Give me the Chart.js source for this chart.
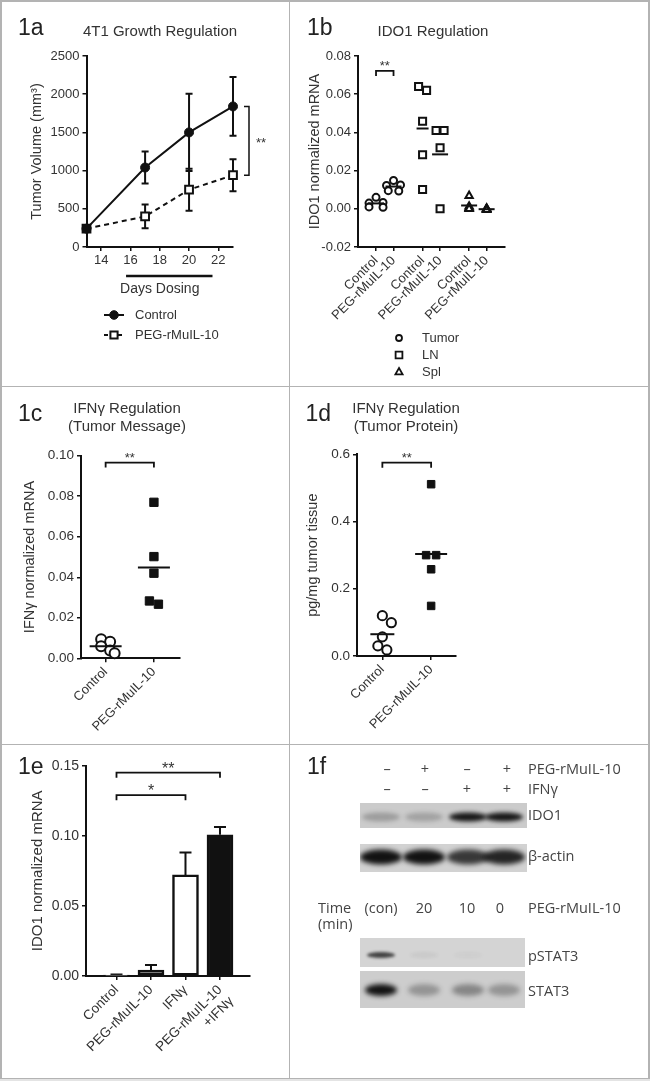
<!DOCTYPE html>
<html>
<head>
<meta charset="utf-8">
<title>Figure 1</title>
<script src="https://cdn.jsdelivr.net/npm/chart.js"></script>
<style>
  body { margin: 0; background: #fff; }
  #page { position: relative; width: 650px; height: 1081px; overflow: hidden; font-family: 'Liberation Sans', Arial, sans-serif; color: #333; }
  #page canvas { position: absolute; left: 0; top: 0; }
  .t { position: absolute; white-space: nowrap; line-height: 1; }
  .tag { font-size: 23px; color: #222; }
  .ttl { font-size: 15px; transform: translateX(-50%); }
  .wb { font-family: 'Open Sans', sans-serif; font-size: 14.5px; color: #444; }
  .mid { transform: translateX(-50%); }
  .rule { position: absolute; background: #b3b3b3; }
</style>
</head>
<body>
<div id="page">
  <div class="rule" style="left:0;top:0;width:650px;height:1.5px"></div>
  <div class="rule" style="left:0;top:0;width:1.5px;height:1079px"></div>
  <div class="rule" style="left:648px;top:0;width:1.5px;height:1079px"></div>
  <div class="rule" style="left:288.5px;top:0;width:1.5px;height:1079px"></div>
  <div class="rule" style="left:0;top:385.5px;width:650px;height:1.5px"></div>
  <div class="rule" style="left:0;top:743.5px;width:650px;height:1.5px"></div>
  <div class="rule" style="left:0;top:1077.5px;width:650px;height:1.5px"></div>
  <div style="position:absolute;left:0;top:1079px;width:650px;height:2px;background:#e4e4e4"></div>

  <canvas id="c1a" width="650" height="1081"></canvas>
  <canvas id="c1b" width="650" height="1081"></canvas>
  <canvas id="c1c" width="650" height="1081"></canvas>
  <canvas id="c1d" width="650" height="1081"></canvas>
  <canvas id="c1e" width="650" height="1081"></canvas>
  <canvas id="blots" width="650" height="1081"></canvas>

  <div class="t tag" style="left:18px;top:15.5px">1a</div>
  <div class="t tag" style="left:307px;top:15.5px">1b</div>
  <div class="t tag" style="left:18px;top:402px">1c</div>
  <div class="t tag" style="left:305.5px;top:402px">1d</div>
  <div class="t tag" style="left:18px;top:754.5px">1e</div>
  <div class="t tag" style="left:307px;top:754.5px">1f</div>

  <div class="t ttl" style="left:160px;top:22.8px">4T1 Growth Regulation</div>
  <div class="t ttl" style="left:433px;top:22.8px">IDO1 Regulation</div>
  <div class="t ttl" style="left:127px;top:399.8px">IFNγ Regulation</div>
  <div class="t ttl" style="left:127px;top:418.3px">(Tumor Message)</div>
  <div class="t ttl" style="left:406px;top:399.8px">IFNγ Regulation</div>
  <div class="t ttl" style="left:406px;top:418.3px">(Tumor Protein)</div>

  <div id="blotText"></div>
</div>
<script>
// ---------------- data ----------------
// 1a  4T1 tumour growth (mean, error)
const growthSeries = ['Control', 'PEG-rMuIL-10'];
const growthDays = [13, 17, 20, 23];
const dayTicks = [14, 16, 18, 20, 22];
const controlVolume = [240, 1040, 1500, 1840];
const controlSem = [0, 210, 505, 385];
const pegVolume = [240, 400, 750, 940];
const pegSem = [0, 155, 275, 210];
const dosingDays = [15.7, 21.6];

// 1b  IDO1 mRNA per tissue
const tissueNames = ['Tumor', 'LN', 'Spl'];
const ido1Labels = ['Control', 'PEG-rMuIL-10', 'Control', 'PEG-rMuIL-10', 'Control', 'PEG-rMuIL-10'];
const tumorControl = [0.0060, 0.0033, 0.0030, 0.0010, 0.0008];
const tumorPeg = [0.0148, 0.0125, 0.0122, 0.0095, 0.0093];
const lnControl = [0.0640, 0.0620, 0.0458, 0.0283, 0.0101];
const lnPeg = [0.0410, 0.0410, 0.0320, 0.0000];
const splControl = [0.0068, 0.0012, 0.0005, 0.0002, 0.0000];
const splPeg = [0.0002, 0.0000, -0.0002, -0.0004, -0.0006];

// 1c  IFNg mRNA in tumour
const groupLabels = ['Control', 'PEG-rMuIL-10'];
const msgControl = [0.0094, 0.0082, 0.0060, 0.0038, 0.0025];
const msgPeg = [0.0770, 0.0502, 0.0420, 0.0283, 0.0267];

// 1d  IFNg protein in tumour
const protControl = [0.120, 0.099, 0.057, 0.030, 0.018];
const protPeg = [0.511, 0.300, 0.300, 0.258, 0.149];

// 1e  IDO1 mRNA, in vitro
const barLabels = ['Control', 'PEG-rMuIL-10', 'IFNγ', ['PEG-rMuIL-10', '+IFNγ']];
const barMeans = [0.0007, 0.0043, 0.0721, 0.1007];
const barSem = [0.0003, 0.0036, 0.0159, 0.0055];

// 1f  western blot lanes and band intensities (0 none .. 1 saturated)
const pegRow = ['–', '+', '–', '+'];
const ifnRow = ['–', '–', '+', '+'];
const timeLabels = ['(con)', '20', '10', '0'];
const ido1Band = [0.25, 0.22, 0.97, 0.97];
const actinBand = [1, 1, 0.8, 0.9];
const pstat3Band = [0.75, 0.05, 0.03, 0];
const stat3Band = [1, 0.3, 0.38, 0.3];

// ---------------- common setup ----------------
const INK = '#111';
const TXT = '#333';
Chart.defaults.font.family = "'Liberation Sans', Arial, sans-serif";
Chart.defaults.color = TXT;
Chart.defaults.animation = false;
Chart.defaults.responsive = false;
Chart.defaults.devicePixelRatio = 1;
Chart.defaults.events = [];
Chart.defaults.plugins.legend.display = false;
Chart.defaults.plugins.tooltip.enabled = false;

// every chart uses a full page canvas; the plot box is given in page pixels
function frame(left, top, right, bottom, yWidth, xHeight) {
    return { padding: { left: left - yWidth, top: top, right: 650 - right, bottom: 1081 - bottom - xHeight } };
}

function valueAxis(min, max, step, digits, title, width, size, titleSize) {
    return {
        type: 'linear', min: min, max: max,
        afterBuildTicks: s => {
            const t = [];
            for (let v = min; v <= max + step / 1000; v += step) t.push({ value: +v.toFixed(6) });
            s.ticks = t;
        },
        ticks: { font: { size: size }, padding: 3, color: TXT, callback: v => v.toFixed(digits) },
        grid: { drawOnChartArea: false, tickLength: 4, color: INK, lineWidth: 1.5 },
        border: { color: INK, width: 2 },
        title: { display: true, text: title, font: { size: titleSize }, color: TXT, padding: { top: 4, bottom: 4 } },
        afterFit: s => { s.width = width; }
    };
}

function catAxis(positions, labels, min, max, height, size, rotate) {
    return {
        type: 'linear', min: min, max: max, offset: false,
        afterBuildTicks: s => { s.ticks = positions.map(v => ({ value: v })); },
        ticks: { font: { size: size }, padding: 2, color: TXT, autoSkip: false, maxRotation: rotate, minRotation: rotate,
                 callback: (v, i) => labels[i] },
        grid: { drawOnChartArea: false, tickLength: 4, color: INK, lineWidth: 1.5, offset: false },
        border: { color: INK, width: 2 },
        afterFit: s => { s.height = height; }
    };
}

function pairs(xs, ys) {
    return xs.map((x, i) => ({ x: x, y: ys[i] }));
}

function group(pos, values, style, extra) {
    return Object.assign({ data: values.map(v => ({ x: pos, y: v })), clip: false, pointBorderColor: INK }, style, extra || {});
}

function marker(ctx, style, x, y, r, fill) {
    ctx.beginPath();
    if (style === 'circle') ctx.arc(x, y, r, 0, Math.PI * 2);
    else if (style === 'rect') ctx.rect(x - r, y - r, 2 * r, 2 * r);
    else { ctx.moveTo(x, y - r); ctx.lineTo(x + r * 0.9, y + r * 0.6); ctx.lineTo(x - r * 0.9, y + r * 0.6); ctx.closePath(); }
    ctx.fillStyle = fill;
    ctx.fill();
    ctx.stroke();
}

// spread points of one column so they do not sit on top of each other
const swarm = {
    id: 'swarm',
    afterDatasetsUpdate(chart) {
        chart.data.datasets.forEach((ds, i) => {
            if (!ds.swarm) return;
            const pts = chart.getDatasetMeta(i).data.slice().sort((a, b) => a.y - b.y);
            if (!pts.length) return;
            const gap = ds.swarm, base = pts[0].x;
            const placed = [];
            pts.forEach(p => {
                for (let n = 0; n < 40; n++) {
                    const nx = base + (n % 2 ? 1 : -1) * Math.ceil(n / 2) * gap / 2;
                    if (placed.every(q => Math.hypot(q.x - nx, q.y - p.y) >= gap)) { p.x = nx; break; }
                }
                placed.push(p);
            });
            // centre rows of points at about the same height
            let row = [];
            const flush = () => {
                if (row.length > 1) {
                    const m = row.reduce((s, q) => s + q.x - base, 0) / row.length;
                    row.forEach(q => { q.x -= m; });
                }
                row = [];
            };
            pts.forEach(p => { if (row.length && p.y - row[0].y > gap / 2) flush(); row.push(p); });
            flush();
        });
    }
};

// horizontal line at the group mean
const means = {
    id: 'means',
    afterDatasetsDraw(chart) {
        const { ctx, scales: { x, y } } = chart;
        chart.data.datasets.forEach(ds => {
            if (!ds.meanWidth) return;
            const mean = ds.data.reduce((s, p) => s + p.y, 0) / ds.data.length;
            const cx = x.getPixelForValue(ds.data[0].x), cy = y.getPixelForValue(mean);
            ctx.save();
            ctx.strokeStyle = INK;
            ctx.lineWidth = 2;
            ctx.beginPath();
            ctx.moveTo(cx - ds.meanWidth / 2, cy);
            ctx.lineTo(cx + ds.meanWidth / 2, cy);
            ctx.stroke();
            ctx.restore();
        });
    }
};
Chart.register(swarm, means);

function errorBars(sets, cap, upOnly, id) {
    return {
        id: id,
        beforeDatasetsDraw(chart) {
            const { ctx, scales: { y } } = chart;
            ctx.save();
            ctx.strokeStyle = INK;
            ctx.lineWidth = 2;
            sets.forEach(set => {
                const ds = chart.data.datasets[set.dataset];
                chart.getDatasetMeta(set.dataset).data.forEach((el, i) => {
                    const v = ds.data[i].y, e = set.sem[i];
                    if (!e) return;
                    const top = y.getPixelForValue(v + e);
                    const bot = y.getPixelForValue(upOnly ? v : v - e);
                    ctx.beginPath();
                    ctx.moveTo(el.x, bot); ctx.lineTo(el.x, top);
                    ctx.moveTo(el.x - cap / 2, top); ctx.lineTo(el.x + cap / 2, top);
                    if (!upOnly) { ctx.moveTo(el.x - cap / 2, bot); ctx.lineTo(el.x + cap / 2, bot); }
                    ctx.stroke();
                });
            });
            ctx.restore();
        }
    };
}

function brackets(items, size, id) {
    return {
        id: id,
        afterDraw(chart) {
            const { ctx, scales: { x, y } } = chart;
            ctx.save();
            ctx.strokeStyle = INK;
            ctx.lineWidth = 1.8;
            ctx.fillStyle = TXT;
            ctx.font = size + "px 'Liberation Sans'";
            ctx.textAlign = 'center';
            ctx.textBaseline = 'alphabetic';
            items.forEach(b => {
                const x1 = x.getPixelForValue(b.from), x2 = x.getPixelForValue(b.to), yy = y.getPixelForValue(b.y);
                ctx.beginPath();
                ctx.moveTo(x1, yy + 5); ctx.lineTo(x1, yy); ctx.lineTo(x2, yy); ctx.lineTo(x2, yy + 5);
                ctx.stroke();
                ctx.fillText(b.text, (x1 + x2) / 2, yy - 8 + 0.57 * size);
            });
            ctx.restore();
        }
    };
}

// ---------------- 1a ----------------
const growthExtras = {
    id: 'growthExtras',
    afterDraw(chart) {
        const { ctx, scales: { x, y }, chartArea } = chart;
        ctx.save();
        ctx.strokeStyle = INK;
        // dosing period
        ctx.lineWidth = 2.5;
        const by = chartArea.bottom + 29;
        ctx.beginPath();
        ctx.moveTo(x.getPixelForValue(dosingDays[0]), by);
        ctx.lineTo(x.getPixelForValue(dosingDays[1]), by);
        ctx.stroke();
        // significance at the last day
        const last = growthDays.length - 1;
        const bx = x.getPixelForValue(growthDays[last]) + 16;
        const y1 = y.getPixelForValue(controlVolume[last]), y2 = y.getPixelForValue(pegVolume[last]);
        ctx.lineWidth = 1.5;
        ctx.beginPath();
        ctx.moveTo(bx - 5, y1); ctx.lineTo(bx, y1); ctx.lineTo(bx, y2); ctx.lineTo(bx - 5, y2);
        ctx.stroke();
        ctx.fillStyle = TXT;
        ctx.font = "13px 'Liberation Sans'";
        ctx.fillText('**', bx + 7, (y1 + y2) / 2 + 6);
        // legend
        const lx = chartArea.left + 17.5;
        growthSeries.forEach((name, i) => {
            const ly = chartArea.bottom + 68 + i * 20;
            ctx.lineWidth = 2;
            ctx.setLineDash(i ? [4, 3] : []);
            ctx.beginPath(); ctx.moveTo(lx, ly); ctx.lineTo(lx + 20, ly); ctx.stroke();
            ctx.setLineDash([]);
            if (i) { ctx.lineWidth = 2; marker(ctx, 'rect', lx + 10, ly, 3.6, '#fff'); }
            else { ctx.lineWidth = 1; marker(ctx, 'circle', lx + 10, ly, 4.3, INK); }
            ctx.fillStyle = TXT;
            ctx.font = "13px 'Liberation Sans'";
            ctx.textBaseline = 'middle';
            ctx.fillText(name, lx + 31, ly);
        });
        ctx.restore();
    }
};

const xA = catAxis(dayTicks, dayTicks.map(String), 13, 23, 54.4, 13, 0);
xA.title = { display: true, text: 'Days Dosing', font: { size: 14 }, color: TXT, padding: { top: 0, bottom: 4 } };

new Chart('c1a', {
    type: 'scatter',
    data: {
        datasets: [
            { data: pairs(growthDays, controlVolume), showLine: true, clip: false, borderColor: INK, borderWidth: 2,
              pointStyle: 'circle', pointRadius: 4.5, pointBorderWidth: 1, pointBorderColor: INK, pointBackgroundColor: INK },
            { data: pairs(growthDays, pegVolume), showLine: true, clip: false, borderColor: INK, borderWidth: 2, borderDash: [5, 4],
              pointStyle: 'rect', pointRadius: 5.5, pointBorderWidth: 2, pointBorderColor: INK,
              pointBackgroundColor: growthDays.map((d, i) => i === 0 ? INK : '#fff') }
        ]
    },
    options: {
        layout: frame(86.5, 56, 233, 247, 62, 54.4),
        scales: { x: xA, y: valueAxis(0, 2500, 500, 0, 'Tumor Volume (mm³)', 62, 13, 14.5) }
    },
    plugins: [errorBars([{ dataset: 0, sem: controlSem }, { dataset: 1, sem: pegSem }], 7, false, 'err1a'), growthExtras]
});

// ---------------- 1b ----------------
const idoPos = ido1Labels.map((_, i) => i + Math.floor(i / 2) * 0.66);
const tumorStyle = { pointStyle: 'circle', pointRadius: 3.5, pointBorderWidth: 2, pointBackgroundColor: '#fff', swarm: 7, meanWidth: 16 };
const lnStyle = { pointStyle: 'rect', pointRadius: 5, pointBorderWidth: 2, pointBackgroundColor: '#fff', swarm: 8, meanWidth: 14 };
const splStyle = { pointStyle: 'triangle', pointRadius: 4.2, pointBorderWidth: 2, pointBackgroundColor: '#fff', meanWidth: 16 };

const ido1Legend = {
    id: 'ido1Legend',
    afterDraw(chart) {
        const { ctx, chartArea } = chart;
        const shapes = [['circle', 3], ['rect', 3.4], ['triangle', 4]];
        ctx.save();
        ctx.strokeStyle = INK;
        ctx.lineWidth = 1.8;
        tissueNames.forEach((name, i) => {
            const y = chartArea.bottom + 91 + i * 17;
            marker(ctx, shapes[i][0], chartArea.left + 41, y, shapes[i][1], '#fff');
            ctx.fillStyle = TXT;
            ctx.font = "13px 'Liberation Sans'";
            ctx.textBaseline = 'middle';
            ctx.fillText(name, chartArea.left + 64, y);
        });
        ctx.restore();
    }
};

new Chart('c1b', {
    type: 'scatter',
    data: {
        datasets: [
            group(idoPos[0], tumorControl, tumorStyle), group(idoPos[1], tumorPeg, tumorStyle),
            group(idoPos[2], lnControl, lnStyle, { meanWidth: 12 }), group(idoPos[3], lnPeg, lnStyle, { meanWidth: 16 }),
            group(idoPos[4], splControl, splStyle), group(idoPos[5], splPeg, splStyle)
        ]
    },
    options: {
        layout: frame(358, 56, 505, 247, 55.4, 80),
        scales: { x: catAxis(idoPos, ido1Labels, -1.03, 7.37, 80, 13, 45),
                  y: valueAxis(-0.02, 0.08, 0.02, 2, 'IDO1 normalized mRNA', 55.4, 13, 14.5) }
    },
    plugins: [brackets([{ from: idoPos[0], to: idoPos[1], y: 0.0722, text: '**' }], 13, 'br1b'), ido1Legend]
});

// ---------------- 1c / 1d ----------------
const twoPos = groupLabels.map((_, i) => i);
const openCircle = { pointStyle: 'circle', pointRadius: 5, pointBorderWidth: 2, pointBackgroundColor: '#fff', swarm: 9 };
const filledSquare = { pointStyle: 'rect', pointRadius: 5.9, pointBorderWidth: 1, pointBackgroundColor: INK, swarm: 9 };

new Chart('c1c', {
    type: 'scatter',
    data: {
        datasets: [
            group(twoPos[0], msgControl, openCircle, { meanWidth: 32 }),
            group(twoPos[1], msgPeg, filledSquare, { meanWidth: 32 })
        ]
    },
    options: {
        layout: frame(81, 455.7, 180, 658.3, 63.4, 80),
        scales: { x: catAxis(twoPos, groupLabels, -0.51, 1.54, 80, 13, 45),
                  y: valueAxis(0, 0.10, 0.02, 2, 'IFNγ normalized mRNA', 63.4, 13.5, 14.5) }
    },
    plugins: [brackets([{ from: twoPos[0], to: twoPos[1], y: 0.0966, text: '**' }], 13, 'br1c')]
});

new Chart('c1d', {
    type: 'scatter',
    data: {
        datasets: [
            group(twoPos[0], protControl, openCircle, { pointRadius: 4.6, meanWidth: 24 }),
            group(twoPos[1], protPeg, filledSquare, { pointRadius: 5.3, swarm: 10, meanWidth: 32 })
        ]
    },
    options: {
        layout: frame(357, 454.3, 456, 656, 56.4, 80),
        scales: { x: catAxis(twoPos, groupLabels, -0.52, 1.51, 80, 13, 45),
                  y: valueAxis(0, 0.6, 0.2, 1, 'pg/mg tumor tissue', 56.4, 13.5, 14.5) }
    },
    plugins: [brackets([{ from: twoPos[0], to: twoPos[1], y: 0.575, text: '**' }], 13, 'br1d')]
});

// ---------------- 1e ----------------
const barPos = barLabels.map((_, i) => i);
new Chart('c1e', {
    type: 'bar',
    data: {
        datasets: [{
            data: pairs(barPos, barMeans),
            backgroundColor: ['#ffffff', '#8a8a8a', '#ffffff', '#111111'],
            borderColor: INK, borderWidth: 2.5, borderSkipped: false, barThickness: 26
        }]
    },
    options: {
        layout: frame(86, 765.7, 250, 976, 61.4, 90),
        scales: { x: catAxis(barPos, barLabels, -0.884, 3.87, 90, 13.5, 45),
                  y: valueAxis(0, 0.15, 0.05, 2, 'IDO1 normalized mRNA', 61.4, 14, 15) }
    },
    plugins: [errorBars([{ dataset: 0, sem: barSem }], 12, true, 'err1e'),
              brackets([{ from: 0, to: 2, y: 0.129, text: '*' }, { from: 0, to: 3, y: 0.145, text: '**' }], 16, 'br1e')]
});

// ---------------- 1f western blots ----------------
const laneHead = [387, 425, 467, 507];
const laneTime = [381, 424, 467, 500];
const laneBand = [381, 424, 468, 504];

function addText(text, x, baseline, centred) {
    const d = document.createElement('div');
    d.className = 't wb' + (centred ? ' mid' : '');
    d.style.left = x + 'px';
    d.style.top = (baseline - 12.9) + 'px';
    d.textContent = text;
    document.getElementById('blotText').appendChild(d);
}
pegRow.forEach((s, i) => addText(s, laneHead[i], 775, true));
ifnRow.forEach((s, i) => addText(s, laneHead[i], 795, true));
timeLabels.forEach((s, i) => addText(s, laneTime[i], 914, true));
addText('PEG-rMuIL-10', 528, 775);
addText('IFNγ', 528, 795);
addText('IDO1', 528, 821);
addText('β-actin', 528, 861.5);
addText('Time', 318, 914);
addText('(min)', 318, 930);
addText('PEG-rMuIL-10', 528, 914);
addText('pSTAT3', 528, 962);
addText('STAT3', 528, 996.7);

function drawBlot(ctx, box, bands, band) {
    ctx.fillStyle = box.bg;
    ctx.fillRect(box.x, box.y, box.w, box.h);
    ctx.save();
    ctx.beginPath();
    ctx.rect(box.x, box.y, box.w, box.h);
    ctx.clip();
    ctx.filter = 'blur(' + band.blur + 'px)';
    bands.forEach((a, i) => {
        if (a <= 0) return;
        ctx.fillStyle = 'rgba(18,18,18,' + a + ')';
        ctx.beginPath();
        ctx.ellipse(laneBand[i], box.y + band.cy, band.w / 2, band.h / 2, 0, 0, Math.PI * 2);
        ctx.fill();
    });
    ctx.restore();
}

const bctx = document.getElementById('blots').getContext('2d');
drawBlot(bctx, { x: 360, y: 803, w: 167, h: 25, bg: '#cbcbcb' }, ido1Band, { cy: 14, w: 38, h: 9, blur: 2 });
drawBlot(bctx, { x: 360, y: 844, w: 167, h: 28, bg: '#d2d2d2' }, actinBand, { cy: 13, w: 42, h: 15, blur: 2.5 });
drawBlot(bctx, { x: 360, y: 938, w: 165, h: 29, bg: '#d4d4d4' }, pstat3Band, { cy: 17, w: 28, h: 6, blur: 1.5 });
drawBlot(bctx, { x: 360, y: 971, w: 165, h: 37, bg: '#cdcdcd' }, stat3Band, { cy: 19, w: 32, h: 12, blur: 2.5 });
</script>
</body>
</html>
